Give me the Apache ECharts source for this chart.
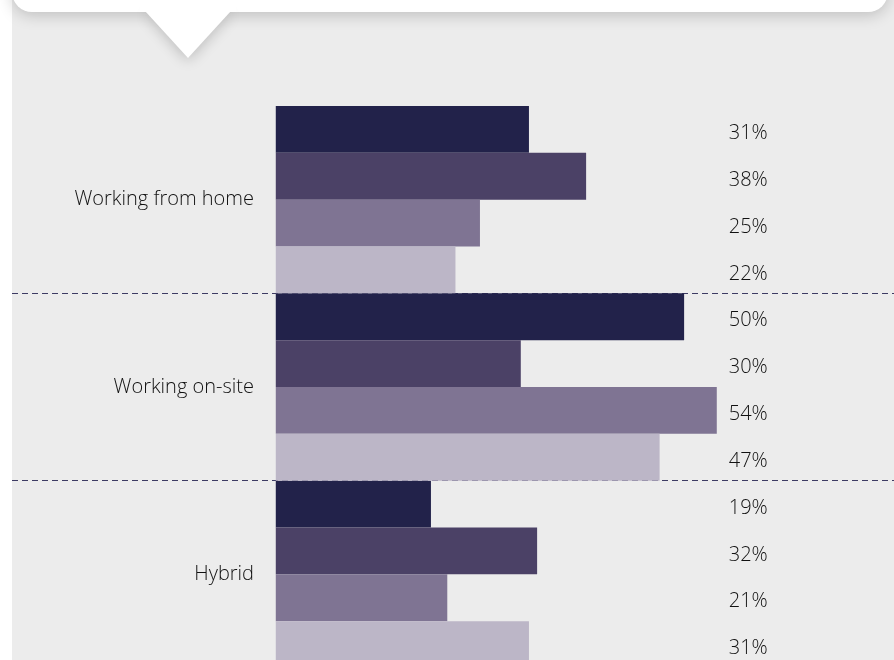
<!DOCTYPE html>
<html>
<head>
<meta charset="utf-8">
<script src="https://cdn.jsdelivr.net/npm/echarts@6/dist/echarts.min.js"></script>
<style>
  html, body { margin: 0; padding: 0; background: #fff; }
  #main { width: 894px; height: 660px; }
</style>
</head>
<body>
<div id="main"></div>
<script>
var categories = ['Working from home', 'Working on-site', 'Hybrid'];
var s1 = [31, 50, 19];
var s2 = [38, 30, 32];
var s3 = [25, 54, 21];
var s4 = [22, 47, 31];
var barColors = ['#22224a', '#4b4166', '#7f7493', '#bcb6c7'];

var myChart = echarts.init(document.getElementById('main'));

function makeSeries(data, color) {
    return {
        type: 'bar',
        data: data,
        barGap: '0%',
        barCategoryGap: '0%',
        silent: true,
        itemStyle: { color: color },
        label: {
            show: true,
            position: [453, '50%'],
            verticalAlign: 'middle',
            offset: [0, 4],
            formatter: '{c}%',
            fontFamily: 'Open Sans',
            fontWeight: 300,
            fontSize: 20,
            color: '#111'
        }
    };
}

var option = {
    backgroundColor: '#ececec',
    animation: false,
    grid: { left: 12, right: 0, top: 106, height: 562, containLabel: false, outerBoundsMode: 'none' },
    xAxis: {
        type: 'value',
        min: -32.3,
        max: 75.7,
        show: false
    },
    yAxis: {
        type: 'category',
        inverse: true,
        data: categories,
        axisLine: { show: false },
        axisTick: { show: false },
        axisLabel: {
            inside: true,
            align: 'right',
            margin: 242,
            fontFamily: 'Open Sans',
            fontWeight: 300,
            fontSize: 20,
            color: '#111',
            padding: [6, 0, 0, 0]
        },
        splitLine: {
            show: true,
            interval: function (index) { return index === 1 || index === 2; },
            lineStyle: { type: [6, 4], color: '#3d3b63', width: 1 }
        }
    },
    graphic: [
        { type: 'rect', left: 0, top: 0, shape: { width: 12, height: 660 }, style: { fill: '#fff' } },
        {
            type: 'group',
            children: [
                { type: 'rect', shape: { x: 12, y: -40, width: 876, height: 52, r: 20 },
                  style: { fill: '#fff', shadowBlur: 16, shadowColor: 'rgba(0,0,0,0.2)', shadowOffsetY: 3 } },
                { type: 'polygon', shape: { points: [[145, 11], [231, 11], [188, 58]] },
                  style: { fill: '#fff', shadowBlur: 14, shadowColor: 'rgba(0,0,0,0.2)', shadowOffsetY: 3 } },
                { type: 'rect', shape: { x: 140, y: 0, width: 96, height: 12 }, style: { fill: '#fff' } }
            ]
        }
    ],
    series: [
        makeSeries(s1, barColors[0]),
        makeSeries(s2, barColors[1]),
        makeSeries(s3, barColors[2]),
        makeSeries(s4, barColors[3])
    ]
};
myChart.setOption(option);
</script>
</body>
</html>
